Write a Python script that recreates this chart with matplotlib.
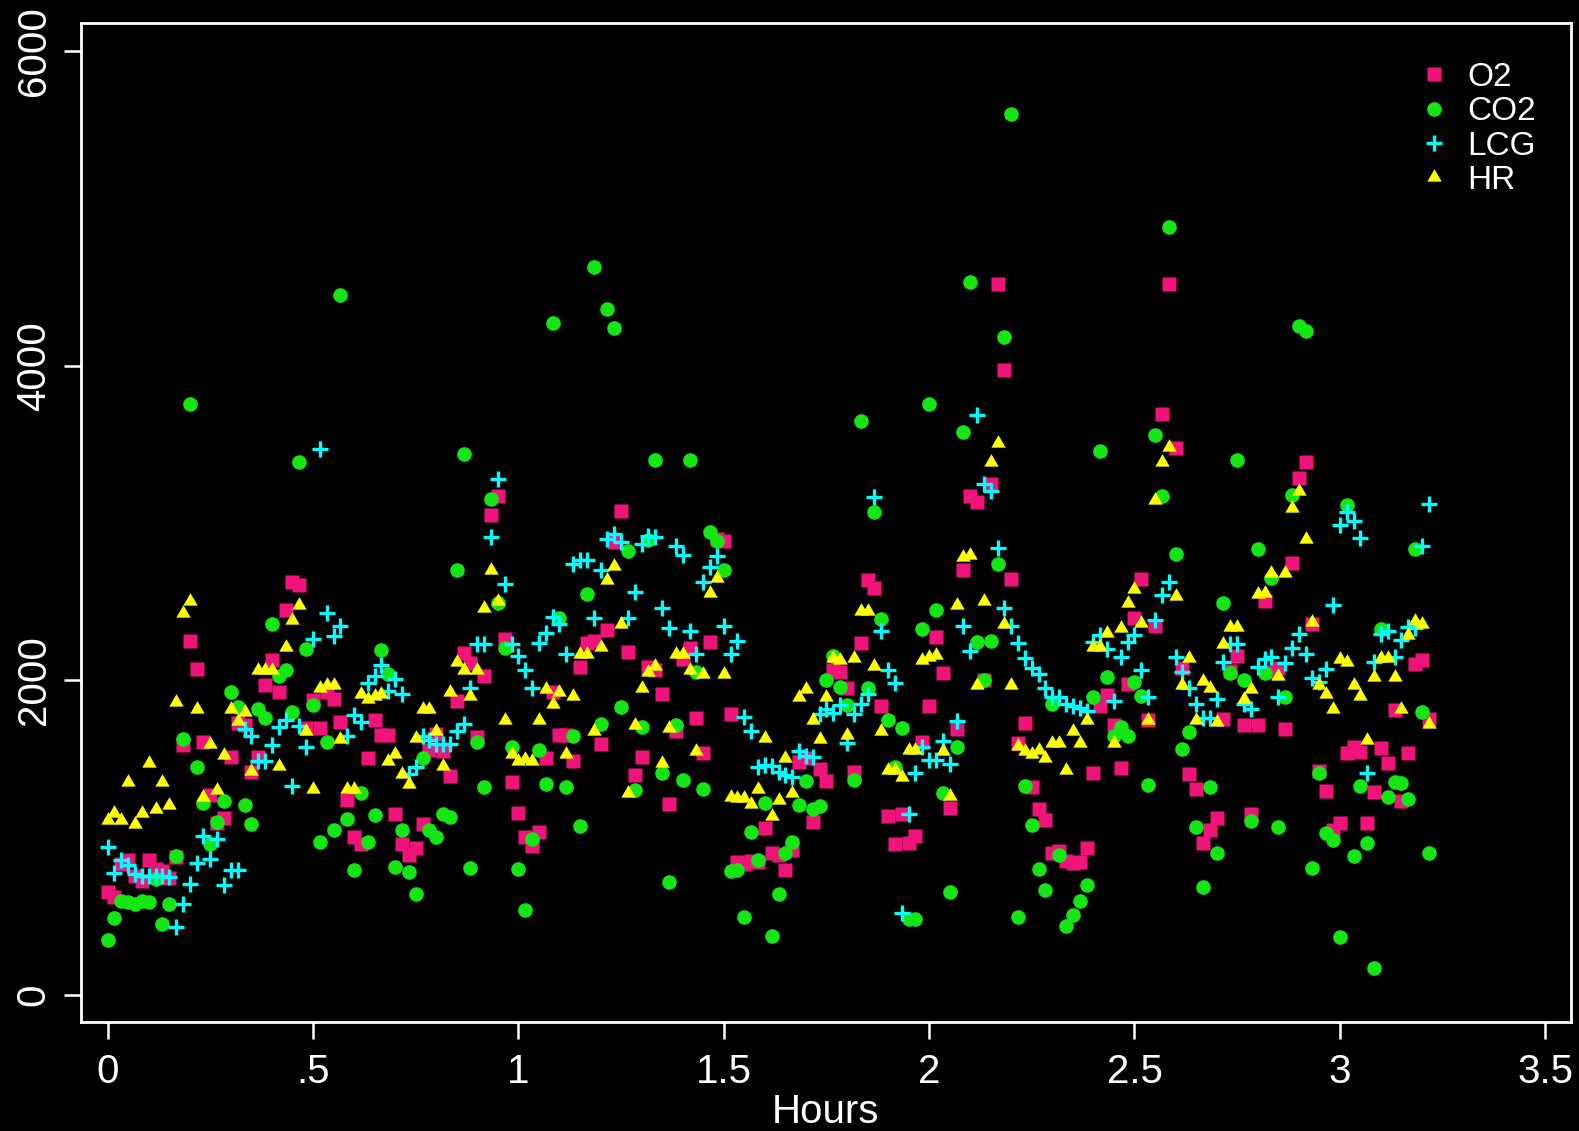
import numpy as np
import matplotlib
matplotlib.use("Agg")
import matplotlib.pyplot as plt

# =========================
# DATA (one reading per minute)
# =========================
minutes = np.arange(194)
hours = minutes / 60.0

o2 = [654, 625, 830, 858, 756, 727, 858, 800, 785, 742,
      880, 1588, 2251, 2071, 1609, 1270, 1090, 1126, 1514, 1726,
      1715, 1419, 1515, 1972, 2127, 1923, 2448, 2623, 2608, 1700,
      1873, 1695, 1923, 1879, 1733, 1237, 1004, 960, 1509, 1748,
      1654, 1654, 1150, 960, 888, 931, 1086, 1558, 1660, 1550,
      1389, 1870, 2176, 2112, 1637, 2025, 3051, 3171, 2264, 1354,
      1156, 1004, 946, 1034, 1509, 1923, 1650, 1654, 1485, 2083,
      2238, 2250, 1596, 2323, 2880, 3075, 2180, 1398, 1515, 2083,
      2069, 1914, 1214, 1680, 2136, 2208, 1762, 1535, 2244, 2900,
      2885, 1783, 844, 830, 853, 844, 1063, 902, 888, 795,
      922, 1480, 1506, 1100, 1436, 1363, 2063, 2050, 1952, 1418,
      2235, 2637, 2588, 1835, 1135, 960, 1150, 969, 1013, 1608,
      1835, 2273, 2048, 1188, 1690, 2701, 3171, 3133, 2004, 3250,
      4518, 3972, 2643, 1602, 1727, 1319, 1185, 1115, 902, 917,
      853, 838, 844, 931, 1408, 1835, 1908, 1719, 1442, 1975,
      2398, 2643, 1748, 2346, 3693, 4518, 3477, 2080, 1404, 1310,
      966, 1048, 1127, 1757, 2060, 2156, 1719, 1150, 1719, 2506,
      2050, 2077, 1690, 2749, 3288, 3386, 2360, 1421, 1296, 1048,
      1090, 1535, 1577, 1546, 1090, 1292, 1571, 1472, 1810, 1232,
      1535, 2107, 2127, 1753]

co2 = [348, 488, 600, 590, 581, 596, 590, 740, 450, 581,
       883, 1624, 3760, 1450, 1218, 957, 1101, 1235, 1923, 1832,
       1207, 1086, 1817, 1762, 2360, 2025, 2063, 1800, 3389, 2200,
       1841, 975, 1608, 1048, 4451, 1121, 795, 1287, 975, 1144,
       2191, 2040, 815, 1048, 780, 640, 1506, 1048, 1004, 1150,
       1130, 2701, 3439, 806, 1608, 1325, 3153, 2490, 2208, 1579,
       800, 537, 990, 1558, 1340, 4270, 2398, 1325, 1646, 1077,
       2550, 4629, 1724, 4358, 4241, 1831, 2822, 1305, 1704, 2890,
       3404, 1412, 721, 1719, 1369, 3404, 2050, 1310, 2943, 2885,
       2701, 786, 795, 494, 1033, 858, 1223, 377, 640, 902,
       975, 1208, 1363, 1179, 1202, 2002, 2156, 1958, 1844, 1369,
       3649, 1950, 3069, 2389, 1748, 1447, 1698, 485, 485, 2325,
       3760, 2448, 1281, 654, 1579, 3579, 4533, 2243, 2004, 2250,
       2739, 4183, 5600, 494, 1331, 1083, 800, 669, 1850, 888,
       436, 509, 596, 698, 1894, 3460, 2019, 1646, 1704, 1646,
       1990, 1900, 1334, 3561, 3171, 4880, 2803, 1564, 1669, 1069,
       683, 1325, 902, 2491, 2045, 3404, 2004, 1106, 2835, 2045,
       2652, 1069, 1894, 3177, 4255, 4221, 805, 1408, 1031, 985,
       371, 3118, 885, 1328, 968, 174, 2329, 1260, 1351, 1345,
       1245, 2837, 1797, 902]

lcg = [940, 777, 858, 829, 771, 756, 756, 756, 756, 750,
       435, 575, 707, 838, 1013, 867, 990, 698, 794, 794,
       1690, 1646, 1485, 1485, 1587, 1704, 1748, 1331, 1710, 1579,
       2264, 3468, 2427, 2281, 2346, 1646, 1777, 1733, 1981, 2025,
       2098, 1931, 2010, 1914, 1404, 1447, 1646, 1620, 1596, 1596,
       1596, 1680, 1724, 1952, 2229, 2229, 2914, 3279, 2614, 2229,
       2156, 2063, 1952, 2235, 2302, 2404, 2360, 2170, 2739, 2763,
       2763, 2398, 2704, 2900, 2929, 2879, 2398, 2564, 2865, 2920,
       2914, 2462, 2331, 2856, 2797, 2311, 2170, 2628, 2719, 2789,
       2346, 2170, 2249, 1768, 1675, 1450, 1462, 1456, 1420, 1398,
       1384, 1550, 1520, 1515, 1786, 1815, 1792, 1841, 1602, 1783,
       1850, 1914, 3168, 2311, 2063, 1981, 523, 1150, 1412, 1579,
       1491, 1491, 1617, 1471, 1739, 2346, 2185, 3687, 3250, 3206,
       2841, 2462, 2346, 2235, 2142, 2077, 2040, 1952, 1894, 1894,
       1850, 1835, 1826, 1806, 2243, 2287, 2200, 1870, 2150, 2244,
       2287, 2069, 1894, 2384, 2544, 2623, 2148, 2054, 1952, 1850,
       1762, 1762, 1879, 2118, 2229, 2229, 1850, 1821, 2083, 2136,
       2148, 1894, 2112, 2206, 2296, 2170, 2016, 1990, 2074, 2477,
       2987, 3069, 3011, 2905, 1412, 2118, 2296, 2311, 2149, 2255,
       2340, 2330, 2856, 3124]

hr = [1115, 1159, 1115, 1354, 1086, 1159, 1477, 1185, 1354, 1208,
      1865, 2430, 2505, 1820, 1256, 1598, 1303, 1525, 1820, 1740,
      1797, 1426, 2063, 2063, 2069, 1456, 2214, 2381, 2477, 1675,
      1310, 1952, 1972, 1972, 1625, 1310, 1310, 1914, 1879, 1900,
      1914, 1485, 1529, 1404, 1340, 1631, 1821, 1821, 1675, 1456,
      1923, 2118, 2069, 1900, 2069, 2462, 2701, 2506, 1748, 1529,
      1485, 1500, 1485, 1748, 1943, 1850, 1923, 1529, 1900, 2170,
      2170, 1675, 2214, 2637, 2725, 2360, 1281, 1719, 1952, 2054,
      2089, 1477, 1698, 2165, 2165, 2063, 1553, 2040, 2556, 2652,
      2040, 1258, 1252, 1250, 1214, 1310, 1631, 1135, 1237, 1506,
      1281, 1894, 1943, 1748, 1625, 1894, 2141, 2127, 1651, 2141,
      2439, 2439, 2089, 1675, 1427, 1427, 1384, 1558, 1558, 2127,
      2147, 2162, 1553, 1262, 2477, 2783, 2798, 1972, 2506, 3389,
      3512, 2360, 1972, 1582, 1553, 1529, 1558, 1506, 1602, 1602,
      1427, 1675, 1602, 1748, 2214, 2214, 2302, 1602, 2331, 2491,
      2578, 2367, 1748, 3148, 3389, 3483, 2535, 1972, 2141, 1748,
      1995, 1952, 1733, 2229, 2337, 2340, 1879, 1946, 2550, 2556,
      2681, 2025, 2681, 3095, 3206, 2900, 2369, 1972, 1914, 1821,
      2133, 2118, 1972, 1900, 1622, 2019, 2141, 2141, 2019, 1821,
      2287, 2375, 2360, 1724]

x_ticks = [0, 0.5, 1, 1.5, 2, 2.5, 3, 3.5]
x_tick_labels = ["0", ".5", "1", "1.5", "2", "2.5", "3", "3.5"]
y_ticks = [0, 2000, 4000, 6000]
y_tick_labels = ["0", "2000", "4000", "6000"]

# =========================
# STYLE
# =========================
plt.rcParams["font.family"] = ["Liberation Sans", "DejaVu Sans"]
col_o2 = "#f0147a"
col_co2 = "#14e614"
col_lcg = "#00ffff"
col_hr = "#ffff00"
tri = [(-1, -0.577), (1, -0.577), (0, 1.155)]

fig = plt.figure(figsize=(15.79, 11.31), dpi=100, facecolor="black")
ax = fig.add_axes([0.051, 0.0964, 0.944, 0.8836], facecolor="black")

ax.plot(hours, o2, ls="none", marker="s", ms=9.8, color=col_o2, mec="none", label="O2")
ax.plot(hours, co2, ls="none", marker="o", ms=10.5, color=col_co2, mec="none", label="CO2")
ax.plot(hours, lcg, ls="none", marker="+", ms=12, mew=2.4, color=col_lcg, label="LCG")
ax.plot(hours, hr, ls="none", marker=tri, ms=12, color=col_hr, mec="none", label="HR")

ax.set_xlim(-0.066, 3.563)
ax.set_ylim(-172, 6182)

ax.set_xticks(x_ticks)
ax.set_xticklabels(x_tick_labels)
ax.set_yticks(y_ticks)
ax.set_yticklabels(y_tick_labels, rotation=90, va="center")

ax.tick_params(colors="white", labelcolor="white", labelsize=29,
               length=12, width=1.8, direction="out")
ax.tick_params(axis="x", pad=10)
ax.tick_params(axis="y", pad=8)
for s in ax.spines.values():
    s.set_color("white")
    s.set_linewidth(2)

ax.set_xlabel("Hours", color="white", fontsize=29, labelpad=2)

leg = ax.legend(loc="upper right", bbox_to_anchor=(0.992, 0.984), frameon=False,
                fontsize=24, labelspacing=0.1, handletextpad=0.5,
                handlelength=1.0, borderaxespad=0.3)
for t in leg.get_texts():
    t.set_color("white")

fig.savefig("out.png", dpi=100, facecolor="black")
